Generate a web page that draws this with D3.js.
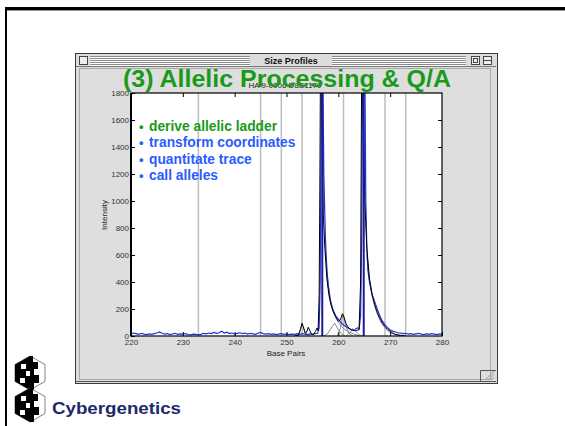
<!DOCTYPE html>
<html><head><meta charset="utf-8">
<script src="https://cdn.jsdelivr.net/npm/d3@7"></script>
<style>
html,body{margin:0;padding:0;background:#fff;}
svg{display:block;font-family:"Liberation Sans",Arial,sans-serif;}
</style></head>
<body>
<svg id="c" width="565" height="426"></svg>
<script>
// ---------- data ----------
const slideTitle = "(3) Allelic Processing & Q/A";
const bullets = ["derive allelic ladder", "transform coordinates", "quantitate trace", "call alleles"];
const bulletColors = ["#1a9a1a", "#2a5cff", "#2a5cff", "#2a5cff"];
const windowTitle = "Size Profiles";
const chartTitle = "HA 9-0006 D8S1179";
const xLabel = "Base Pairs";
const yLabel = "Intensity";
const xTicks = [220, 230, 240, 250, 260, 270, 280];
const yTicks = [0, 200, 400, 600, 800, 1000, 1200, 1400, 1600, 1800];
const ladderLines = [233, 245, 249, 253, 261, 269, 273];
const alleleCalls = [256.9, 264.9];
// raw trace (blue): [base pairs, intensity]
const blueTrace = [
[220,15],[220.5,22],[221,18],[221.5,12],[222,20],[222.5,14],[223,10],[223.5,16],[224,12],[224.5,18],
[225,22],[225.5,30],[226,20],[226.5,14],[227,18],[227.5,10],[228,15],[228.5,20],[229,12],[229.5,16],
[230,14],[230.5,18],[231,10],[231.5,8],[232,14],[232.5,12],[233,8],[233.5,12],[234,20],[234.5,16],
[235,22],[235.5,18],[236,26],[236.5,20],[237,24],[237.5,36],[238,22],[238.5,28],[239,18],[239.5,22],
[240,14],[240.5,20],[241,24],[241.5,18],[242,22],[242.5,14],[243,20],[243.5,16],[244,12],[244.5,20],
[245,26],[245.5,18],[246,14],[246.5,18],[247,12],[247.5,16],[248,10],[248.5,14],[249,18],[249.5,12],
[250,16],[250.5,10],[251,14],[251.5,12],[252,16],[252.5,12],[253,18],[253.5,14],[254,10],[254.5,16],
[255,12],[255.5,18],[256,20],[256.3,60],[256.5,400],[256.7,1600],[256.85,2600],[257,2000],[257.2,1200],
[257.5,730],[257.8,480],[258.1,360],[258.4,270],[258.7,225],[259,190],[259.5,150],[260,125],[260.5,100],
[261,82],[261.5,68],[262,56],[262.5,48],[263,42],[263.5,40],[264,48],[264.3,150],[264.5,700],[264.7,2000],
[264.9,2700],[265.1,2100],[265.3,1000],[265.5,650],[265.7,490],[266,400],[266.5,310],[267,255],[267.5,200],
[268,150],[268.5,110],[269,82],[269.5,62],[270,45],[270.5,36],[271,30],[271.5,24],[272,22],[272.5,18],
[273,20],[273.5,14],[274,18],[274.5,12],[275,16],[275.5,20],[276,14],[276.5,10],[277,16],[277.5,12],
[278,18],[278.5,14],[279,10],[279.5,16],[280,12]
];
// fitted model (black)
const blackTrace = [
[251.5,0],[252.3,5],[252.7,50],[253,95],[253.3,60],[253.6,20],[253.9,30],[254.2,65],[254.5,40],[254.8,15],
[255.2,10],[255.6,35],[255.9,60],[256.1,40],[256.3,300],[256.45,1200],[256.6,2400],[256.8,1900],[256.9,1500],
[257.1,900],[257.4,650],[257.8,420],[258.2,300],[258.6,230],[259,180],[259.5,140],[260,110],[260.4,120],
[260.8,165],[261.1,140],[261.5,90],[262,60],[262.5,45],[263,40],[263.4,55],[263.7,60],[264,50],[264.3,400],
[264.55,2400],[264.8,1700],[265.1,1000],[265.5,650],[266,430],[266.5,310],[267,235],[267.5,175],[268,130],
[268.5,95],[269,70],[269.5,50],[270,35],[270.5,22],[271,12],[272,5],[273,0]
];
// component curves (gray)
const grayA = [[251.8,0],[252.5,30],[253,90],[253.5,40],[254,10],[254.6,0]];
const grayB = [[257.2,0],[258,20],[258.8,70],[259.3,95],[259.8,60],[260.5,20],[261.2,0]];
const grayC = [[259.8,0],[260.4,60],[260.9,160],[261.4,80],[262,20],[262.8,0]];
const grayD = [[261.5,0],[262.3,30],[262.8,55],[263.3,35],[264,10],[264.6,0]];
const grayE = [[257.5,640],[258,400],[258.5,270],[259,190],[259.5,140],[260,100],[261,55],[262,30],[263,15],[264,0]];
const grayF = [[265.5,600],[266,410],[266.5,300],[267,220],[267.5,165],[268,120],[268.5,85],[269,60],[269.5,40],[270,25],[271,10],[272,0]];
const grayCurves = [grayA, grayB, grayC, grayD, grayE, grayF];

// ---------- drawing ----------
const svg = d3.select("#c");

// slide border
svg.append("rect").attr("x",0).attr("y",0).attr("width",565).attr("height",426).attr("fill","#fff");
svg.append("line").attr("x1",5).attr("x2",565).attr("y1",10.5).attr("y2",10.5).attr("stroke","#999").attr("stroke-width",1);
svg.append("line").attr("x1",5).attr("x2",565).attr("y1",8.5).attr("y2",8.5).attr("stroke","#000").attr("stroke-width",3);
svg.append("line").attr("x1",6).attr("x2",6).attr("y1",7).attr("y2",426).attr("stroke","#000").attr("stroke-width",2);

// window
const W = {x:75, y:53, w:422, h:330};
svg.append("rect").attr("x",W.x+0.5).attr("y",W.y+0.5).attr("width",W.w).attr("height",W.h)
  .attr("fill","#dcdcdc").attr("stroke","#3a3a3a");
// title bar stripes
const stripes = svg.append("g");
[56,58,60,62,64].forEach(yy=>{
  stripes.append("line").attr("x1",90).attr("x2",250).attr("y1",yy+0.5).attr("y2",yy+0.5).attr("stroke","#8a8a8a");
  stripes.append("line").attr("x1",332).attr("x2",466).attr("y1",yy+0.5).attr("y2",yy+0.5).attr("stroke","#8a8a8a");
  stripes.append("line").attr("x1",90).attr("x2",250).attr("y1",yy+1.5).attr("y2",yy+1.5).attr("stroke","#fff");
  stripes.append("line").attr("x1",332).attr("x2",466).attr("y1",yy+1.5).attr("y2",yy+1.5).attr("stroke","#fff");
});
svg.append("text").attr("x",291).attr("y",63.5).attr("text-anchor","middle")
  .attr("font-size",9).attr("font-weight","bold").attr("fill","#111").text(windowTitle);
// close box
svg.append("rect").attr("x",79.5).attr("y",56.5).attr("width",8).attr("height",8).attr("fill","#eee").attr("stroke","#444");
// zoom & collapse boxes
svg.append("rect").attr("x",471.5).attr("y",56.5).attr("width",8).attr("height",8).attr("fill","#eee").attr("stroke","#444");
svg.append("rect").attr("x",473.5).attr("y",58.5).attr("width",4).attr("height",4).attr("fill","none").attr("stroke","#444");
svg.append("rect").attr("x",483.5).attr("y",56.5).attr("width",8).attr("height",8).attr("fill","#eee").attr("stroke","#444");
svg.append("line").attr("x1",484).attr("x2",491).attr("y1",60.5).attr("y2",60.5).attr("stroke","#444");
// content frame
svg.append("line").attr("x1",76).attr("x2",496).attr("y1",66.5).attr("y2",66.5).attr("stroke","#777");
svg.append("rect").attr("x",79.5).attr("y",68.5).attr("width",411).attr("height",311)
  .attr("fill","#dedede").attr("stroke","#aaa");
svg.append("line").attr("x1",76).attr("x2",496).attr("y1",381.5).attr("y2",381.5).attr("stroke","#555");
// grow box
svg.append("path").attr("d","M480.5,381 V370.5 H496").attr("fill","none").attr("stroke","#555");
[0,3,6].forEach(o=>{
  svg.append("line").attr("x1",485+o).attr("y1",380).attr("x2",494).attr("y2",371+o).attr("stroke","#999");
});

// plot
const P = {l:131, r:442, t:93, b:336};
const x = d3.scaleLinear().domain([220,280]).range([P.l,P.r]);
const y = d3.scaleLinear().domain([0,1800]).range([P.b,P.t]);

svg.append("rect").attr("x",P.l).attr("y",P.t).attr("width",P.r-P.l).attr("height",P.b-P.t).attr("fill","#fff");
svg.append("defs").append("clipPath").attr("id","clip").append("rect")
  .attr("x",P.l).attr("y",P.t).attr("width",P.r-P.l).attr("height",P.b-P.t);
const plot = svg.append("g").attr("clip-path","url(#clip)");

plot.selectAll(".ladder").data(ladderLines).join("line")
  .attr("x1",d=>x(d)).attr("x2",d=>x(d)).attr("y1",P.t).attr("y2",P.b)
  .attr("stroke","#bdbdbd").attr("stroke-width",1.5);

const line = d3.line().x(d=>x(d[0])).y(d=>y(d[1]));
plot.selectAll(".gray").data(grayCurves).join("path").attr("d",line)
  .attr("fill","none").attr("stroke","#8a8a8a").attr("stroke-width",1);
plot.append("path").datum(blueTrace).attr("d",line).attr("fill","none").attr("stroke","#1f2fe0").attr("stroke-width",1.2);
plot.append("path").datum(blackTrace).attr("d",line).attr("fill","none").attr("stroke","#000").attr("stroke-width",1);
plot.selectAll(".allele").data(alleleCalls).join("line")
  .attr("x1",d=>x(d)).attr("x2",d=>x(d)).attr("y1",P.t).attr("y2",P.b)
  .attr("stroke","#1a1a9a").attr("stroke-width",2);

// axes
const axFont = g=>{g.selectAll("text").attr("font-size",8).attr("fill","#333").attr("font-family","'Liberation Sans',Arial,sans-serif");
  g.select(".domain").remove(); g.selectAll(".tick line").attr("stroke","#000");};
svg.append("g").attr("transform",`translate(${P.l},0)`)
  .call(d3.axisLeft(y).tickValues(yTicks).tickFormat(d3.format("d")).tickSizeInner(-4).tickSizeOuter(0).tickPadding(2)).call(axFont);
svg.append("g").attr("transform",`translate(${P.r},0)`)
  .call(d3.axisRight(y).tickValues(yTicks.slice(1,-1)).tickSizeInner(-4).tickSizeOuter(0).tickFormat("")).call(axFont);
svg.append("g").attr("transform",`translate(0,${P.b})`)
  .call(d3.axisBottom(x).tickValues(xTicks).tickFormat(d3.format("d")).tickSizeInner(-4).tickSizeOuter(0).tickPadding(3)).call(axFont);
svg.append("g").attr("transform",`translate(0,${P.t})`)
  .call(d3.axisTop(x).tickValues(xTicks.slice(1,-1)).tickSizeInner(-4).tickSizeOuter(0).tickFormat("")).call(axFont);
svg.append("rect").attr("x",P.l).attr("y",P.t).attr("width",P.r-P.l).attr("height",P.b-P.t)
  .attr("fill","none").attr("stroke","#000").attr("stroke-width",1.2);
svg.append("line").attr("x1",P.l).attr("x2",P.l).attr("y1",P.t).attr("y2",P.b).attr("stroke","#000").attr("stroke-width",2);

svg.append("text").attr("x",286).attr("y",356).attr("text-anchor","middle").attr("font-size",8).attr("fill","#222").text(xLabel);
svg.append("text").attr("transform","translate(107,215) rotate(-90)").attr("text-anchor","middle").attr("font-size",8).attr("fill","#222").text(yLabel);
svg.append("text").attr("x",285).attr("y",88).attr("text-anchor","middle").attr("font-size",8).attr("fill","#222").text(chartTitle);

// slide title and bullets
svg.append("text").attr("x",123).attr("y",87).attr("font-size",23).attr("font-weight","bold")
  .attr("fill","#1a9a1a").attr("textLength",328).attr("lengthAdjust","spacingAndGlyphs").text(slideTitle);
bullets.forEach((b,i)=>{
  const yy = 131 + i*16.3;
  svg.append("text").attr("x",139).attr("y",yy).attr("font-size",13).attr("font-weight","bold").attr("fill",bulletColors[i]).text("•");
  svg.append("text").attr("x",149).attr("y",yy).attr("font-size",13.8).attr("font-weight","bold").attr("fill",bulletColors[i]).text(b);
});

// logo
function hex(cx, cy, rw, rh){
  return `M${cx},${cy-rh} L${cx+rw},${cy-rh/2} L${cx+rw},${cy+rh/2} L${cx},${cy+rh} L${cx-rw},${cy+rh/2} L${cx-rw},${cy-rh/2} Z`;
}
function logoHex(cx, cy){
  const g = svg.append("g");
  g.append("path").attr("d",hex(cx,cy,15,17)).attr("fill","#fff").attr("stroke","#666").attr("stroke-width",0.8);
  g.append("path").attr("d",`M${cx},${cy-17} L${cx-15},${cy-8.5} L${cx-15},${cy+8.5} L${cx},${cy+17} L${cx+4},${cy+17} L${cx+4},${cy+10} L${cx+9},${cy+10} L${cx+9},${cy+2} L${cx+4},${cy+2} L${cx+4},${cy-4} L${cx+8},${cy-4} L${cx+8},${cy-11} L${cx+3},${cy-11} L${cx+3},${cy-17} Z`).attr("fill","#000");
  g.append("rect").attr("x",cx-9).attr("y",cy-9).attr("width",5).attr("height",5).attr("fill","#fff");
  g.append("rect").attr("x",cx-4).attr("y",cy-2).attr("width",4).attr("height",5).attr("fill","#fff");
  g.append("rect").attr("x",cx-10).attr("y",cy+5).attr("width",5).attr("height",5).attr("fill","#fff");
}
logoHex(30, 373);
logoHex(30, 405);
svg.append("text").attr("x",52).attr("y",414).attr("font-size",17).attr("font-weight","bold")
  .attr("fill","#1c2a6b").attr("textLength",129).attr("lengthAdjust","spacingAndGlyphs").text("Cybergenetics");
</script>
</body></html>
